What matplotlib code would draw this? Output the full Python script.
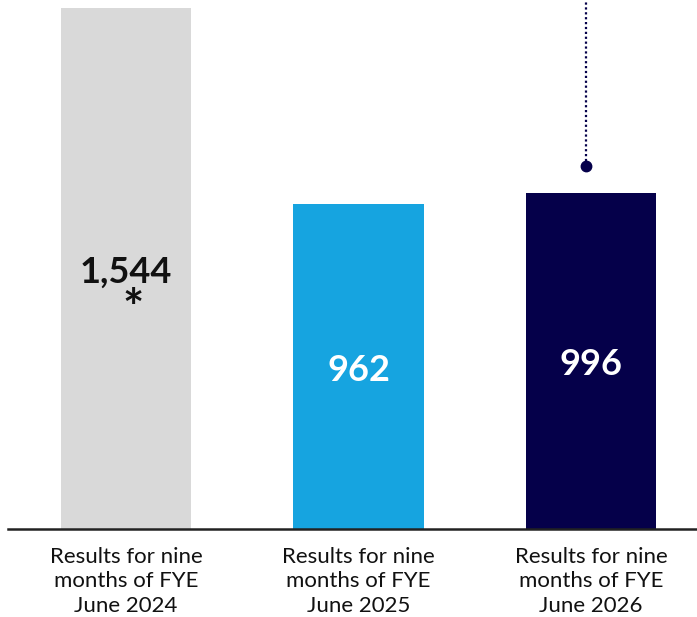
import matplotlib.pyplot as plt

categories = ["Results for nine\nmonths of FYE\nJune 2024",
              "Results for nine\nmonths of FYE\nJune 2025",
              "Results for nine\nmonths of FYE\nJune 2026"]
values = [1544, 962, 996]
value_labels = ["1,544", "962", "996"]
bar_colors = ["#d9d9d9", "#16a4e0", "#05004a"]
label_colors = ["#111111", "#ffffff", "#ffffff"]

plt.rcParams['font.family'] = ['Lato', 'DejaVu Sans']

fig = plt.figure(figsize=(6.97, 6.17), dpi=100)
ax = fig.add_axes([8 / 697, 88.5 / 617, 689 / 697, 528.5 / 617])

x = list(range(len(values)))
ax.bar(x, values, width=0.56, color=bar_colors, zorder=2)

for xi, v, lab, c in zip(x, values, value_labels, label_colors):
    ax.text(xi, v / 2 - 12, lab, ha="center", va="center", fontsize=26,
            fontweight="bold", color=c, zorder=3)
# footnote marker under the first value
ax.text(0.03, values[0] / 2 - 125, "*", ha="center", va="center",
        fontsize=36, fontweight="bold", color="#111111", zorder=3)

# dotted leader coming down to the last bar
ax.plot([1.98, 1.98], [1076, 1600], color="#05004a", lw=1.6,
        linestyle=(0, (1, 1.2)), zorder=3, clip_on=True)
ax.plot([1.98], [1076], marker="o", markersize=7.5, color="#05004a", zorder=4)

ax.set_xlim(-0.5075, 2.456)
ax.set_ylim(0, 1569)
ax.set_xticks(x)
ax.set_xticklabels(categories, fontsize=16, linespacing=1.3, color="#111111")
ax.tick_params(axis="x", length=0, pad=13)
ax.set_yticks([])
for side in ["top", "right", "left"]:
    ax.spines[side].set_visible(False)
ax.spines["bottom"].set_color("#222222")
ax.spines["bottom"].set_linewidth(1.8)
ax.spines["bottom"].set_zorder(5)

fig.savefig("out.png", dpi=100)
